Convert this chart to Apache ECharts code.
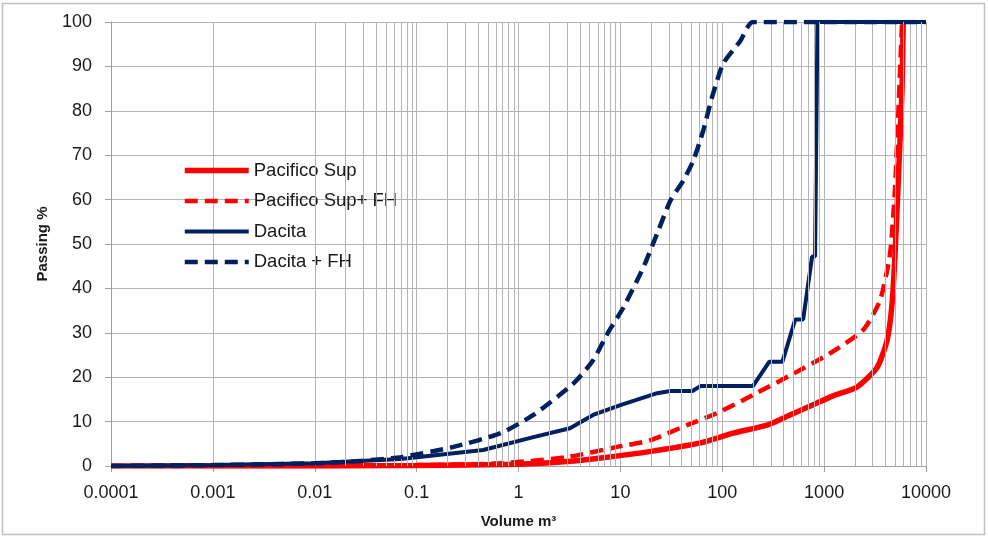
<!DOCTYPE html>
<html>
<head>
<meta charset="utf-8">
<script src="https://cdn.jsdelivr.net/npm/echarts@6/dist/echarts.min.js"></script>
<style>html,body{margin:0;padding:0;background:#fff}#c{width:988px;height:537px}</style>
</head>
<body>
<div id="c"></div>
<script>
// ---- data ----
const seriesNames = ['Pacifico Sup', 'Pacifico Sup+ FH', 'Dacita', 'Dacita + FH'];
const xTickLabels = ['0.0001', '0.001', '0.01', '0.1', '1', '10', '100', '1000', '10000'];
const yTickLabels = ['0', '10', '20', '30', '40', '50', '60', '70', '80', '90', '100'];

const pacSupX = [0.0001, 0.01, 0.1, 1, 3, 6.4, 20, 61, 128, 275, 434, 780, 1225, 2110, 3310, 4150, 4645, 4970, 5310, 5820, 5960, 6000];
const pacSupY = [0, 0, 0.1, 0.4, 1, 1.8, 3.3, 5.2, 7.4, 9.2, 11.2, 13.8, 15.8, 17.8, 22.2, 28.3, 36.6, 47.9, 62.7, 85, 98.6, 100];

const pacFhX = [0.0001, 0.01, 0.1, 0.66, 3, 9.3, 19.7, 45, 89, 200, 464, 1145, 2410, 3540, 4440, 4970, 5310, 5820];
const pacFhY = [0, 0, 0.2, 0.6, 2, 4.3, 5.8, 9.2, 11.9, 16, 20.4, 25.4, 30.6, 37.3, 47.9, 62.7, 77.8, 100];

const dacX = [0.0001, 0.001, 0.01, 0.07, 0.45, 1.4, 3.2, 5.4, 10, 23, 31, 51, 61, 200, 290, 390, 520, 622, 762, 815, 860, 10000];
const dacY = [0, 0.2, 0.6, 1.6, 3.6, 6.5, 8.5, 11.5, 13.7, 16.4, 16.9, 16.9, 18, 18, 23.5, 23.5, 33, 33, 47.2, 47.2, 100, 100];

const dacFhX = [0.0001, 0.001, 0.01, 0.03, 0.07, 0.23, 0.67, 1.4, 3.47, 5.4, 7.5, 10.7, 16.8, 23, 31, 41.5, 52, 65, 79, 102, 150, 200, 10000];
const dacFhY = [0, 0.2, 0.6, 1.2, 2.0, 4.3, 7.4, 11.5, 18.6, 23.8, 29.9, 35.7, 44.7, 52.4, 59.8, 64.3, 68.8, 75.5, 82.9, 90.6, 95.7, 100, 100];

// ---- build ----
const zip = (xs, ys) => xs.map((x, i) => [x, ys[i]]);
const RED = '#ff0000', NAVY = '#002060', GRID = '#b4b4b4';
const FONT = '"Liberation Sans", Arial, sans-serif';

// minor vertical gridlines (2..9 within each decade)
const minorX = [];
for (let e = -4; e < 4; e++) {
  for (let m = 2; m <= 9; m++) minorX.push({ xAxis: m * Math.pow(10, e) });
}

const chart = echarts.init(document.getElementById('c'), null, { renderer: 'canvas' });
chart.setOption({
  animation: false,
  backgroundColor: '#fff',
  textStyle: { fontFamily: FONT },
  graphic: [{
    type: 'rect', silent: true, z: -10,
    shape: { x: 2.5, y: 3.5, width: 982, height: 531 },
    style: { fill: 'none', stroke: '#c0c0c0', lineWidth: 1.5 }
  }],
  grid: { left: 111, right: 62, top: 22, bottom: 71 },
  legend: {
    orient: 'vertical', left: 182, top: 161, padding: 0,
    itemWidth: 64, itemHeight: 14, itemGap: 11.5,
    data: seriesNames,
    itemStyle: { opacity: 0 },
    lineStyle: { width: 'inherit' },
    textStyle: { fontSize: 18.5, color: '#1a1a1a', fontFamily: FONT }
  },
  xAxis: {
    type: 'log', logBase: 10, min: 0.0001, max: 10000, splitNumber: 8,
    name: 'Volume m³', nameLocation: 'middle', nameGap: 48,
    nameTextStyle: { fontSize: 15, fontWeight: 'bold', color: '#1a1a1a', fontFamily: FONT },
    axisLine: { lineStyle: { color: '#a0a0a0', width: 1 } },
    axisTick: { show: true, length: 6, lineStyle: { color: '#a0a0a0' } },
    axisLabel: {
      fontSize: 18, color: '#1a1a1a', margin: 18, fontFamily: FONT,
      formatter: v => xTickLabels[Math.round(Math.log10(v)) + 4]
    },
    splitLine: { show: true, lineStyle: { color: GRID, width: 1 } },
    minorTick: { show: false }
  },
  yAxis: {
    type: 'value', min: 0, max: 100, interval: 10,
    name: 'Passing %', nameLocation: 'middle', nameGap: 61, nameRotate: 90,
    nameTextStyle: { fontSize: 15, fontWeight: 'bold', color: '#1a1a1a', fontFamily: FONT },
    axisLine: { show: true, lineStyle: { color: '#a0a0a0', width: 1 } },
    axisTick: { show: true, length: 6, lineStyle: { color: '#a0a0a0' } },
    axisLabel: {
      fontSize: 18, color: '#1a1a1a', margin: 19, fontFamily: FONT,
      formatter: (v) => yTickLabels[Math.round(v / 10)]
    },
    splitLine: { show: true, lineStyle: { color: GRID, width: 1 } }
  },
  series: [
    {
      name: '_grid', type: 'line', data: [], z: 0, silent: true,
      markLine: {
        silent: true, symbol: ['none', 'none'], animation: false,
        label: { show: false },
        lineStyle: { color: GRID, width: 1, type: 'solid' },
        emphasis: { disabled: true },
        data: minorX
      }
    },
    {
      name: seriesNames[0], type: 'line', z: 2, showSymbol: false, symbol: 'none',
      smooth: 0.2,
      lineStyle: { color: RED, width: 5.5 }, itemStyle: { color: RED },
      data: zip(pacSupX, pacSupY)
    },
    {
      name: seriesNames[1], type: 'line', z: 3, showSymbol: false, symbol: 'none',
      smooth: 0.2,
      lineStyle: { color: RED, width: 4.5, type: [13, 7] }, itemStyle: { color: RED },
      data: zip(pacFhX, pacFhY)
    },
    {
      name: seriesNames[2], type: 'line', z: 4, showSymbol: false, symbol: 'none',
      lineStyle: { color: NAVY, width: 4 }, itemStyle: { color: NAVY },
      data: zip(dacX, dacY)
    },
    {
      name: seriesNames[3], type: 'line', z: 5, showSymbol: false, symbol: 'none',
      smooth: 0.2,
      lineStyle: { color: NAVY, width: 4.5, type: [13, 7] }, itemStyle: { color: NAVY },
      data: zip(dacFhX, dacFhY)
    }
  ]
});
</script>
</body>
</html>
